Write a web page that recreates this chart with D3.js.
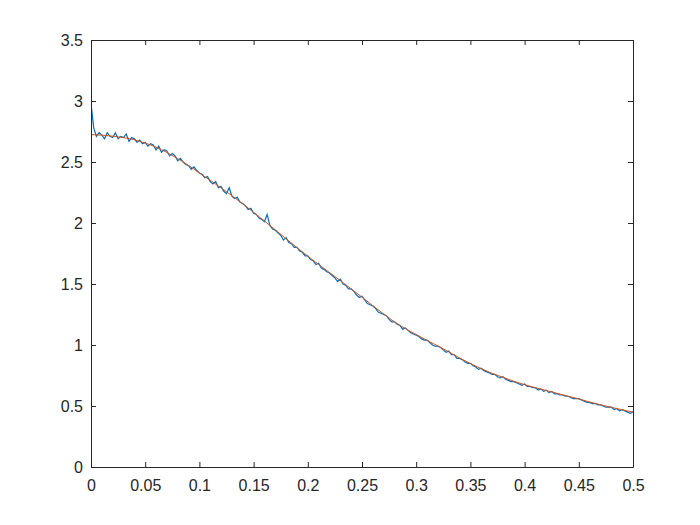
<!DOCTYPE html>
<html>
<head>
<meta charset="utf-8">
<script src="https://cdn.jsdelivr.net/npm/d3@7"></script>
<style>
  html, body { margin: 0; padding: 0; background: #fff; }
  svg text { font-family: "Liberation Sans", Arial, Helvetica, sans-serif; }
</style>
</head>
<body>
<div id="chart"></div>
<script>
// fitted curve (orange), sampled every 0.01
const fitX = d3.range(0, 51).map(i => i / 100);
const fitY = [
  2.725, 2.720, 2.712, 2.700, 2.682, 2.655, 2.622, 2.578, 2.528, 2.472,
  2.410, 2.350, 2.288, 2.224, 2.157, 2.088, 2.016, 1.944, 1.871, 1.798,
  1.728, 1.660, 1.594, 1.528, 1.460, 1.392, 1.322, 1.254, 1.190, 1.134,
  1.086, 1.038, 0.992, 0.944, 0.894, 0.848, 0.806, 0.768, 0.735, 0.703,
  0.675, 0.650, 0.627, 0.604, 0.581, 0.558, 0.533, 0.510, 0.489, 0.469,
  0.450
];

// measured noisy signal (blue), sampled every 0.0025
const rawX = d3.range(0, 201).map(i => i / 400);
const rawY = [
  2.98, 2.78, 2.71, 2.74, 2.72, 2.69, 2.74, 2.71, 2.70, 2.74, 2.69, 2.71,
  2.70, 2.73, 2.67, 2.70, 2.69, 2.66, 2.68, 2.65, 2.66, 2.63, 2.65, 2.64,
  2.60, 2.63, 2.58, 2.60, 2.59, 2.55, 2.57, 2.55, 2.51, 2.53, 2.50, 2.48,
  2.47, 2.44, 2.46, 2.43, 2.41, 2.40, 2.37, 2.38, 2.34, 2.32, 2.34, 2.29,
  2.30, 2.26, 2.24, 2.29, 2.22, 2.20, 2.21, 2.17, 2.16, 2.14, 2.11, 2.12,
  2.08, 2.07, 2.04, 2.03, 2.01, 2.07, 1.98, 1.95, 1.94, 1.92, 1.90, 1.86,
  1.88, 1.84, 1.83, 1.80, 1.80, 1.77, 1.76, 1.73, 1.73, 1.70, 1.69, 1.66,
  1.67, 1.63, 1.62, 1.60, 1.59, 1.57, 1.55, 1.52, 1.54, 1.50, 1.49, 1.46,
  1.46, 1.44, 1.41, 1.39, 1.40, 1.37, 1.34, 1.33, 1.32, 1.30, 1.27, 1.26,
  1.25, 1.24, 1.21, 1.19, 1.19, 1.17, 1.16, 1.13, 1.14, 1.12, 1.10, 1.09,
  1.08, 1.07, 1.05, 1.04, 1.04, 1.02, 1.00, 0.99, 0.99, 0.98, 0.96, 0.94,
  0.95, 0.92, 0.92, 0.89, 0.89, 0.88, 0.86, 0.85, 0.85, 0.83, 0.82, 0.80,
  0.81, 0.79, 0.78, 0.77, 0.76, 0.76, 0.74, 0.73, 0.74, 0.72, 0.71, 0.70,
  0.70, 0.69, 0.68, 0.67, 0.68, 0.66, 0.66, 0.65, 0.65, 0.63, 0.64, 0.62,
  0.63, 0.61, 0.62, 0.60, 0.60, 0.59, 0.59, 0.58, 0.58, 0.57, 0.56, 0.56,
  0.56, 0.55, 0.54, 0.53, 0.53, 0.52, 0.52, 0.51, 0.51, 0.50, 0.49, 0.49,
  0.49, 0.47, 0.48, 0.46, 0.47, 0.46, 0.45, 0.44, 0.45
];

const xTicks = [0, 0.05, 0.1, 0.15, 0.2, 0.25, 0.3, 0.35, 0.4, 0.45, 0.5];
const yTicks = [0, 0.5, 1, 1.5, 2, 2.5, 3, 3.5];

const W = 700, H = 525;
const plotLeft = 91, plotRight = 633, plotTop = 40, plotBottom = 467;
const axisColor = '#262626';

const svg = d3.select('#chart').append('svg')
  .attr('width', W)
  .attr('height', H);

const x = d3.scaleLinear().domain([0, 0.5]).range([plotLeft, plotRight]);
const y = d3.scaleLinear().domain([0, 3.5]).range([plotBottom, plotTop]);

svg.append('clipPath').attr('id', 'plotclip')
  .append('rect')
  .attr('x', plotLeft).attr('y', plotTop)
  .attr('width', plotRight - plotLeft).attr('height', plotBottom - plotTop);

const plot = svg.append('g').attr('clip-path', 'url(#plotclip)');

const line = d3.line()
  .x(d => x(d[0]))
  .y(d => y(d[1]));

// blue first, orange fit on top (plot order)
plot.append('path')
  .datum(rawX.map((v, i) => [v, rawY[i]]))
  .attr('d', line)
  .attr('fill', 'none')
  .attr('stroke', '#0072BD')
  .attr('stroke-width', 1.2);

plot.append('path')
  .datum(fitX.map((v, i) => [v, fitY[i]]))
  .attr('d', line.curve(d3.curveMonotoneX))
  .attr('fill', 'none')
  .attr('stroke', '#D95319')
  .attr('stroke-width', 1);

// axes, ticks inward on all four sides
const tickLen = 5;

const xAxisB = d3.axisBottom(x).tickValues(xTicks).tickSizeInner(-tickLen).tickSizeOuter(0)
  .tickPadding(13).tickFormat(d => d3.format('')(d));
const xAxisT = d3.axisTop(x).tickValues(xTicks).tickSizeInner(-tickLen).tickSizeOuter(0)
  .tickFormat('');
const yAxisL = d3.axisLeft(y).tickValues(yTicks).tickSizeInner(-tickLen).tickSizeOuter(0)
  .tickPadding(8).tickFormat(d => d3.format('')(d));
const yAxisR = d3.axisRight(y).tickValues(yTicks).tickSizeInner(-tickLen).tickSizeOuter(0)
  .tickFormat('');

function style(g) {
  g.selectAll('path.domain').attr('stroke', axisColor).attr('stroke-width', 1);
  g.selectAll('.tick line').attr('stroke', axisColor).attr('stroke-width', 1);
  g.selectAll('.tick text')
    .attr('fill', axisColor)
    .style('font-size', '16px');
}

svg.append('g').attr('transform', `translate(0,${plotBottom})`).call(xAxisB).call(style);
svg.append('g').attr('transform', `translate(0,${plotTop})`).call(xAxisT).call(style);
svg.append('g').attr('transform', `translate(${plotLeft},0)`).call(yAxisL).call(style);
svg.append('g').attr('transform', `translate(${plotRight},0)`).call(yAxisR).call(style);
</script>
</body>
</html>
